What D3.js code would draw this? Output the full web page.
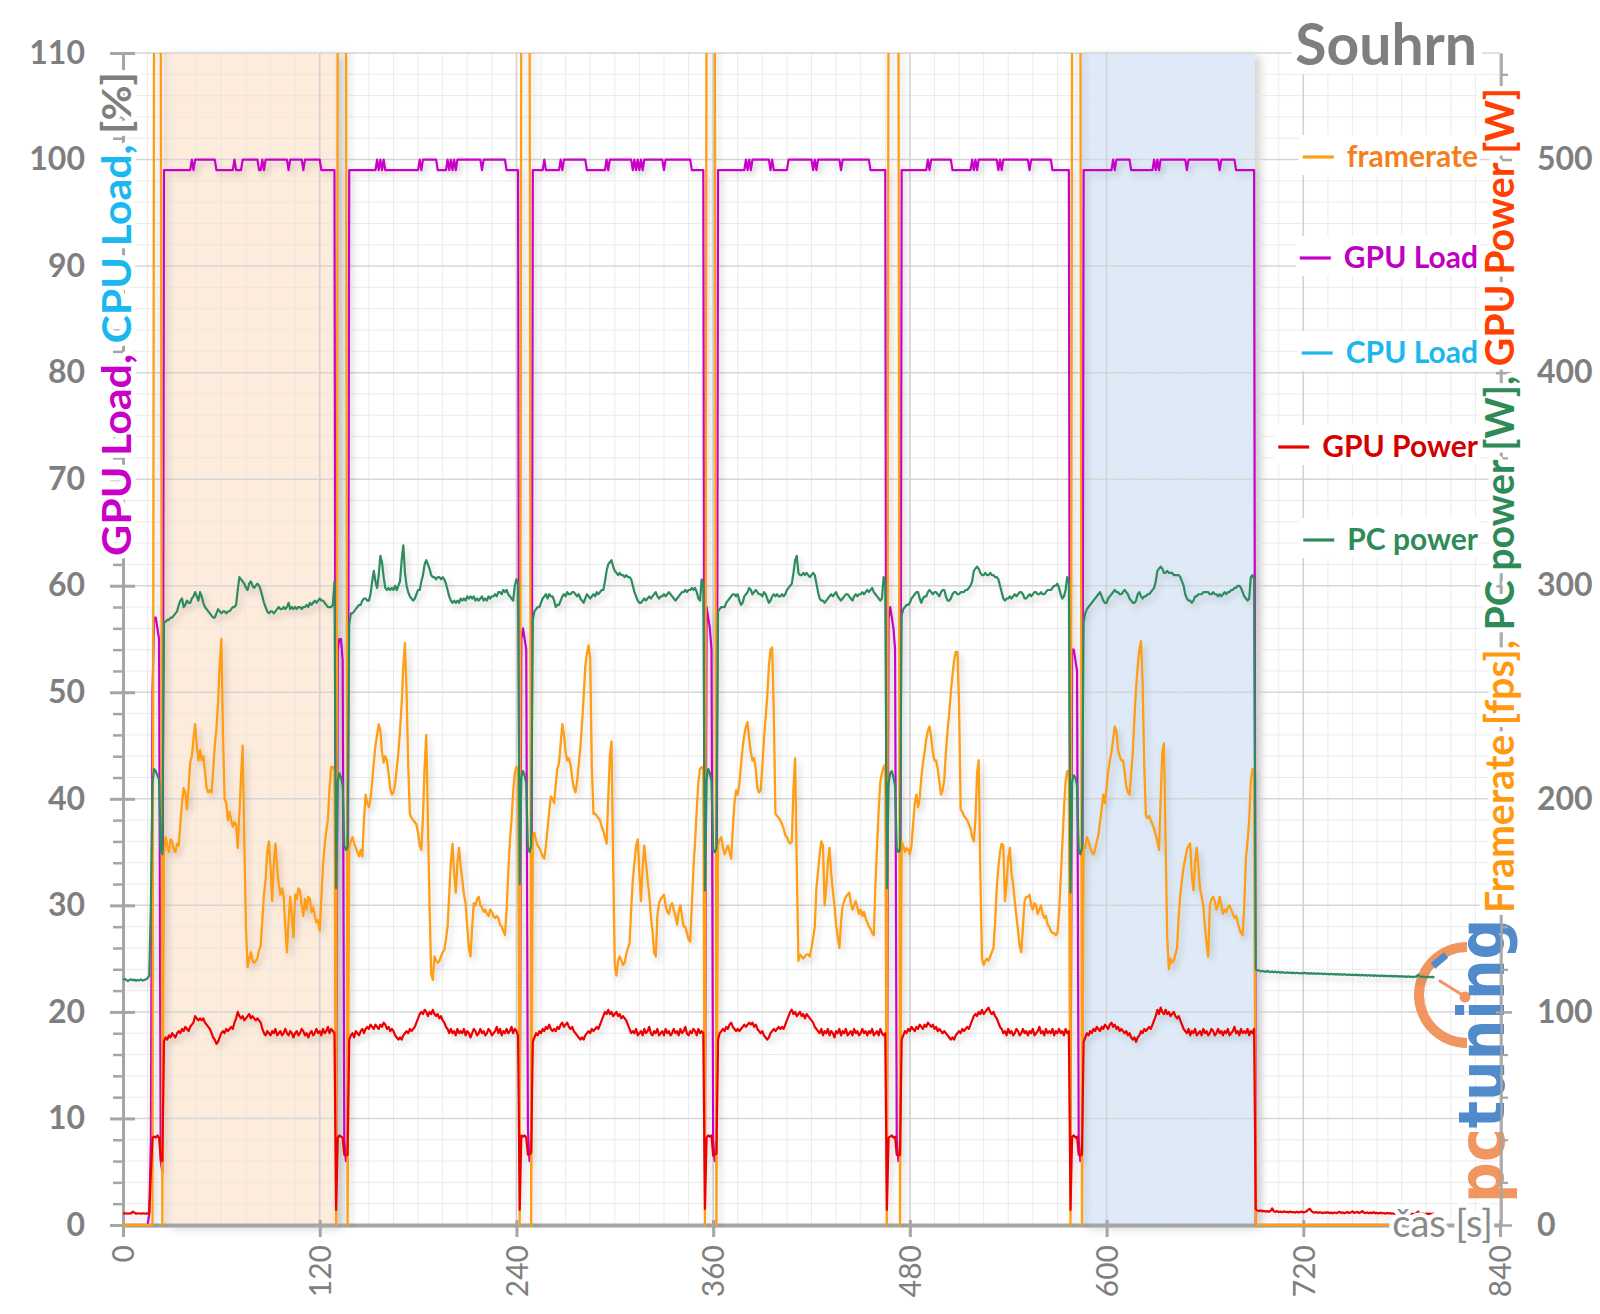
<!DOCTYPE html>
<html><head><meta charset="utf-8">
<script src="https://cdn.jsdelivr.net/npm/d3@7"></script>
<style>
html,body{margin:0;padding:0;background:#fff;}
svg{display:block;font-family:Lato,"Open Sans",sans-serif;}
</style></head><body>
<svg id="chart" width="1600" height="1314"></svg>
<script>
// ---------------- DATA ----------------
// time (s) at which each data segment starts; samples are 1 s apart
const segmentStart = [0, 25, 130, 138, 242, 250, 355, 363, 466, 475, 578, 586, 691];
const timeTicks = [0, 120, 240, 360, 480, 600, 720, 840];
const leftTicks = [0, 10, 20, 30, 40, 50, 60, 70, 80, 90, 100, 110];
const rightTicks = [0, 100, 200, 300, 400, 500];
const seriesNames = ["framerate", "GPU Load", "CPU Load", "GPU Power", "PC power"];
const bandStart = [25, 585];
const bandEnd = [130.5, 690];
const titleText = "Souhrn";
const xTitle = "čas [s]";
const leftTitleParts = ["GPU Load, ", "CPU Load, ", "[%]"];
const rightTitleParts = ["Framerate [fps], ", "PC power [W], ", "GPU Power [W]"];

// framerate [fps] (right axis); 600 = off the top of the chart (loading screens)
const framerate = [
 [0,0,0,0,0,0,0,0,0,0, 0,0,0,0,0,0,0,0,0,600, 600,600,600,600,0],
 [174,182,178,175,181,180,176,175,179,178, 188,198,205,203,195,205,217,220,228,235,
  225,218,223,218,220,213,205,203,204,203, 213,225,233,245,263,275,230,200,198,190,
  194,190,187,189,188,177,193,210,225,180, 140,121,125,128,124,123,124,125,129,131,
  143,155,162,175,180,168,152,170,179,168, 160,155,158,154,140,128,143,154,145,135,
  155,153,158,157,150,145,153,148,154,153, 147,149,145,142,143,138,153,169,178,185,
  190,205,215,215,213],
 [0,600,600,600,600,600,600,0],
 [177,180,182,179,177,175,173,176,173,190, 202,198,196,200,208,217,225,230,235,232,
  222,217,220,218,212,205,202,203,207,214, 222,232,245,262,273,250,215,193,191,190,
  189,188,184,178,176,192,215,230,190,150, 118,115,126,124,123,124,126,128,129,134,
  140,155,170,179,165,156,170,177,168,162, 155,151,140,130,126,140,151,150,153,154,
  150,149,147,148,146,145,148,147,145,144, 145,144,141,140,138,136,148,165,180,190,
  203,212,215,214],
 [0,600,600,600,600,600,600,0],
 [183,184,180,178,177,175,173,172,178,186, 194,201,200,198,207,214,217,226,235,230,
  222,218,219,216,210,205,203,208,216,224, 235,248,262,268,272,266,215,193,193,192,
  191,190,187,185,182,179,200,220,227,170, 122,117,124,126,124,122,123,127,130,132,
  148,162,170,178,181,165,152,168,178,170, 162,155,145,138,128,126,145,151,153,154,
  155,150,147,146,150,151,148,145,141,147, 150,145,140,140,137,134,133,150,168,180,
  195,208,214,215,214],
 [0,600,600,600,600,600,600,0],
 [178,181,182,177,174,176,178,175,172,186, 198,204,202,207,216,224,230,234,236,228,
  222,218,219,214,205,203,204,215,228,238, 248,262,270,271,240,193,192,191,190,188,
  186,183,182,180,179,180,205,219,170,124, 127,126,125,126,127,127,126,130,135,140,
  158,166,174,180,178,150,158,170,177,165, 157,150,141,135,130,142,150,152,154,155,
  156,151,148,150,152,149,146,148,145,147, 144,142,140,139,137,136,160,178,195,208,
  212,215,216],
 [0,600,600,600,600,600,600,600,0],
 [180,178,175,177,176,174,178,188,198,202, 196,200,210,217,222,228,232,234,229,222,
  218,218,214,208,202,204,209,222,232,240, 250,258,265,269,269,245,195,194,192,191,
  190,188,186,182,180,190,212,218,165,125, 122,124,125,124,126,128,130,142,158,168,
  175,179,178,152,160,172,177,165,160,152, 145,138,131,128,140,152,154,154,155,150,
  148,151,150,146,148,150,146,144,145,141, 140,138,137,137,136,137,146,162,178,195,
  208,213,213],
 [0,600,600,600,600,600,600,0],
 [178,177,182,180,177,175,174,176,180,183, 189,195,202,198,205,213,218,222,228,234,
  232,223,220,218,218,213,206,203,202,212, 222,238,252,262,270,274,255,215,192,191,
  192,190,188,186,183,180,176,200,222,226, 180,135,120,125,123,124,127,130,145,155,
  162,168,172,176,178,179,164,157,170,177, 168,158,154,150,140,132,126,150,153,154,
  152,148,150,154,150,146,148,147,149,150, 148,146,144,145,142,139,137,136,150,172,
  180,190,208,214,213],
 [0,0,0,0,0,0,0,0,0,0, 0,0,0,0,0,0,0,0,0,0, 0,0,0,0,0,0,0,0,0,0, 0,0,0,0,0,0,0,0,0,0,
  0,0,0,0,0,0,0,0,0,0, 0,0,0,0,0,0,0,0,0,0, 0,0,0,0,0,0,0,0,0,0, 0,0,0,0,0,0,0,0,0,0, 0,0,0]
];

// GPU load [%] (left axis)
const gpuLoad = [
 [0,0,0,0,0,0,0,0,0,0, 0,0,0,0,0,0,1,8,50,57, 57,56,55,6,5],
 [99,99,99,99,99,99,99,99,99,99, 99,99,99,99,99,99,99,100,99,100,
  100,100,100,100,100,100,100,100,100,100, 100,100,99,99,99,99,99,99,99,99,
  99,99,99,100,99,99,99,99,100,100, 100,100,100,100,100,100,100,100,99,99,
  100,99,100,100,100,100,100,100,100,100, 100,100,100,100,100,100,99,100,100,100,
  100,100,100,100,100,99,100,100,100,100, 100,100,100,100,100,100,99,99,99,99,
  99,99,99,99,99],
 [4,54,55,55,53,8,6,7],
 [99,99,99,99,99,99,99,99,99,99, 99,99,99,99,99,99,99,100,99,100,
  99,100,99,99,99,99,99,99,99,99, 99,99,99,99,99,99,99,99,99,99,
  99,99,99,100,99,100,100,100,100,100, 100,100,100,100,99,99,99,99,99,99,
  100,99,100,99,100,99,100,100,100,100, 100,100,100,100,100,100,100,100,100,100,
  100,99,100,100,100,100,100,100,100,100, 100,100,100,100,100,100,99,99,99,99,
  99,99,99,99],
 [5,55,56,55,54,9,6,7],
 [99,99,99,99,99,99,99,100,99,99, 99,99,99,99,99,99,99,100,99,100,
  100,100,100,100,100,100,100,100,100,100, 100,100,100,99,99,99,99,99,99,99,
  99,99,99,99,99,100,99,100,100,100, 100,100,100,100,100,100,100,100,100,100,
  100,99,100,99,100,99,100,99,100,100, 100,100,100,100,100,100,100,100,100,100,
  99,100,100,100,100,100,100,100,100,100, 100,100,100,100,100,100,100,99,99,99,
  99,99,99,99,99],
 [5,58,57,56,54,8,6,7],
 [99,99,99,99,99,99,99,99,99,99, 99,99,99,99,99,99,99,100,99,100,
  99,100,100,100,100,100,100,100,100,100, 100,100,99,100,99,99,99,99,99,99,
  99,99,99,100,100,100,100,100,100,100, 100,100,100,100,100,100,100,100,99,100,
  99,100,100,100,100,100,100,100,100,100, 100,100,100,100,100,99,100,100,100,100,
  100,100,100,100,100,100,100,100,100,100, 100,100,100,99,99,99,99,99,99,99,
  99,99,99],
 [4,57,58,57,56,54,8,6,7],
 [99,99,99,99,99,99,99,99,99,99, 99,99,99,99,99,99,100,99,100,100,
  100,100,100,100,100,100,100,100,100,100, 100,99,99,99,99,99,99,99,99,99,
  99,99,99,100,99,100,99,100,100,100, 100,100,100,100,100,100,100,100,100,99,
  100,99,100,100,100,100,100,100,100,100, 100,100,100,100,100,100,100,100,99,100,
  100,100,100,100,100,100,100,100,100,100, 100,100,99,99,99,99,99,99,99,99,
  99,99,99],
 [5,54,54,53,52,8,6,7],
 [99,99,99,99,99,99,99,99,99,99, 99,99,99,99,99,99,99,99,100,99,
  100,100,100,100,100,100,100,100,100,99, 99,99,99,99,99,99,99,99,99,99,
  99,99,99,100,99,100,99,100,100,100, 100,100,100,100,100,100,100,100,100,100,
  100,100,100,99,100,100,100,100,100,100, 100,100,100,100,100,100,100,100,100,100,
  100,100,100,99,100,100,100,100,100,100, 100,100,100,99,99,99,99,99,99,99,
  99,99,99,99,99],
 [0,0,0,0,0,0,0,0,0,0, 0,0,0,0,0,0,0,0,0,0, 0,0,0,0,0,0,0,0,0,0, 0,0,0,0,0,0,0,0,0,0,
  0,0,0,0,0,0,0,0,0,0, 0,0,0,0,0,0,0,0,0,0, 0,0,0,0,0,0,0,0,0,0, 0,0,0,0,0,0,0,0,0,0, 0,0,0]
];

// CPU load [%] – no visible trace in the chart (legend entry only)
const cpuLoad = [];

// GPU power [W] (right axis)
const gpuPower = [
 [5.6,5.4,5.5,5.3,5.5,5.4,6.3,5.8,5.3,5.5, 5.4,5.3,5.5,5.4,5.3,5.5,5.4,24,41,41.5, 41,42,41,31,30],
 [86,88,87,89,88,90,89,88,90,91, 90,92,91,93,92,91,93,94,95,98,
  97,96,97,96,97,95,94,93,92,90, 88,87,85,86,88,90,91,90,92,91,
  92,93,92,95,97,100,98,97,98,96, 97,98,99,97,98,97,96,97,96,95,
  92,90,89,91,90,89,91,90,92,89, 90,91,89,90,92,90,89,91,90,88,
  90,91,89,90,92,91,89,90,88,90, 91,89,90,92,90,91,89,92,90,91,
  93,90,92,91,90],
 [7,41,42,41.5,41,33,32.5,33],
 [87,89,90,88,91,90,89,91,92,90, 92,93,92,94,93,92,94,93,92,94,
  93,95,94,92,93,91,92,91,89,88, 87,88,87,89,90,91,90,92,91,92,
  93,95,97,99,100,99,101,100,98,100, 99,101,99,98,99,97,98,96,95,93,
  92,90,92,90,91,89,92,90,91,90, 92,89,91,90,88,90,92,91,89,90,
  92,90,91,89,90,92,91,89,90,91, 93,90,92,89,91,90,92,90,91,93,
  90,92,91,89],
 [7,42,41.5,42,41,33,33,34],
 [86,88,90,89,91,90,92,91,93,92, 94,92,91,92,91,93,92,94,95,93,
  94,95,93,92,93,91,90,89,88,87, 88,87,89,90,91,90,92,91,92,93,
  92,94,96,98,100,99,101,99,100,98, 99,100,98,99,97,98,97,96,94,92,
  90,91,90,92,89,90,91,89,92,90, 91,93,90,89,91,90,92,89,90,91,
  89,92,90,91,89,90,92,90,91,89, 92,90,91,93,90,89,91,90,92,91,
  89,92,90,91,90],
 [7.5,41,42,41.5,42,32.5,33,33.5],
 [87,90,91,92,91,93,92,94,95,93, 92,91,92,91,92,93,94,93,94,95,
  94,95,93,94,92,91,90,91,89,88, 87,88,90,91,92,91,92,93,92,93,
  92,94,96,98,100,101,99,100,98,99, 100,98,99,97,99,98,97,96,95,93,
  92,91,90,92,89,91,90,92,89,91, 90,88,91,90,92,89,91,90,92,89,
  90,91,89,92,90,91,89,90,92,90, 91,89,91,90,92,89,90,91,89,92,
  90,89,90],
 [7,41,41.5,42,41,41.5,33,32.5,33],
 [87,89,91,90,92,91,93,92,91,93, 92,94,93,92,94,93,95,94,93,94,
  92,93,91,92,91,90,91,90,89,88, 87,88,87,89,90,91,90,92,91,92,
  93,92,94,96,98,99,98,100,99,101, 99,100,101,102,100,99,100,98,97,95,
  93,92,90,91,89,92,90,91,89,90, 92,91,89,90,92,90,91,89,91,90,
  92,89,90,91,93,90,91,89,92,90, 91,90,92,89,91,90,92,90,91,89,
  92,90,91],
 [7,41.5,42,41,41.5,33,32.5,33],
 [86,88,90,89,91,90,92,91,93,92, 91,93,92,94,93,92,94,95,93,94,
  92,93,91,92,91,90,91,89,90,88, 87,88,86,88,89,91,90,92,91,92,
  93,92,94,96,98,101,99,102,100,99, 101,99,100,98,99,100,98,97,98,96,
  94,92,91,90,92,89,91,90,92,89, 90,91,89,92,90,91,89,90,92,91,
  89,90,92,90,91,89,91,90,92,89, 90,91,93,90,91,89,92,90,91,90,
  92,89,91,90,92],
 [7.5,6.8,6.5,6.9,6.4,6.6,6.3,6.5,6.2,6.6, 7.8,6.4,6.2,6.5,6.1,6.3,6.0,6.4,6.1,6.2,
  5.9,6.3,6.0,6.1,5.8,6.2,5.9,6.0,6.3,5.9, 6.1,6.4,7.2,7.6,6.5,6.0,5.8,6.1,5.7,6.0,
  5.8,5.6,5.9,5.7,6.0,5.6,5.8,5.5,5.9,5.6, 5.8,6.2,5.7,5.9,5.5,5.8,6.1,5.6,5.9,6.4,
  5.7,5.9,6.2,5.6,6.0,6.5,5.8,5.6,5.9,5.5, 5.8,5.6,6.0,5.5,5.7,5.4,5.8,5.5,5.6,5.3,
  5.7,5.4,5.6,5.3,5.5,5.2,5.6,5.3,5.5,5.2, 5.4,5.6,5.3,5.5,5.2,5.4,5.1,5.3,5.5,6.3,
  5.4,5.2,5.4,5.1,5.3,5.2,5.4,5.1,5.3,5.2]
];

// PC power [W] (right axis)
const pcPower = [
 [115,115.5,115,114.5,115,115.3,114.8,115.2,114.6,115, 114.8,115.2,114.7,115,115.3,115.8,117,150,208,214, 213,211,209,176,174],
 [283,283,284,284,285,285,286,287,288,291, 293,294,290,291,293,292,292,294,295,297,
  295,293,297,295,292,290,289,288,287,286, 285,285,287,289,288,287,288,288,287,288,
  288,289,290,290,291,298,304,303,302,301, 299,298,301,302,300,299,300,301,300,298,
  295,292,290,288,287,288,288,287,288,289, 290,289,289,290,289,290,292,289,290,289,
  290,289,290,290,289,290,290,291,290,292, 291,292,293,292,293,294,293,293,292,291,
  290,290,290,291,302],
 [158,208,212,210,206,178,176,177],
 [282,287,287,288,289,290,291,291,293,294, 294,293,293,296,302,307,302,299,305,314,
  311,304,299,298,299,298,299,298,300,298, 300,302,312,319,306,300,297,295,294,293,
  294,296,298,298,302,305,310,312,310,308, 305,304,304,303,304,304,303,304,303,301,
  298,295,293,292,293,292,293,292,294,293, 294,293,295,294,295,294,295,293,294,293,
  294,295,293,294,293,295,294,295,295,296, 295,297,297,296,298,297,298,296,295,294,
  293,300,303,301],
 [160,210,213,211,207,177,175,178],
 [284,288,289,290,290,292,294,295,296,294, 296,295,295,293,290,291,291,293,295,296,
  295,297,296,296,297,297,296,295,296,294, 293,292,294,296,295,294,295,296,295,297,
  296,297,298,298,302,307,310,311,312,309, 307,306,305,306,305,305,304,305,304,304,
  303,300,297,295,293,292,292,293,294,293, 294,295,294,295,296,297,295,294,295,295,
  296,295,296,297,296,295,294,293,294,295, 296,297,297,298,297,298,298,299,298,299,
  297,294,293,303,301],
 [157,209,214,212,208,176,175,177],
 [288,289,290,290,290,292,293,294,295,296, 296,295,296,293,291,292,295,296,297,299,
  298,296,297,298,297,296,296,295,297,296, 294,292,293,295,296,295,296,295,295,296,
  295,296,298,299,300,301,306,312,314,306, 305,305,306,305,306,305,304,305,306,305,
  301,297,294,293,293,292,293,294,295,296, 295,296,297,295,294,293,294,295,296,296,
  295,294,293,295,296,295,296,296,297,296, 297,298,297,298,299,297,296,295,294,293,
  294,304,302],
 [158,207,212,213,210,206,177,175,176],
 [286,289,290,291,291,292,294,295,296,297, 297,294,292,294,295,295,297,298,297,296,
  297,297,296,295,297,298,298,295,293,293, 294,296,297,297,296,296,297,297,297,298,
  298,299,300,302,307,308,309,308,306,305, 305,306,305,305,306,305,305,304,304,303,
  300,297,294,293,294,294,295,294,295,296, 295,296,297,297,296,294,294,295,296,295,
  296,297,297,296,296,297,296,296,297,298, 298,298,299,300,300,301,299,296,294,295,
  298,304,302],
 [156,208,211,210,206,176,174,177],
 [283,287,289,290,291,292,293,294,295,296, 297,295,293,292,292,294,295,296,297,298,
  297,297,296,296,297,298,297,296,294,293, 292,292,293,296,297,295,294,295,295,296,
  296,297,298,299,302,307,308,309,308,306, 306,307,306,306,306,305,305,305,305,304,
  302,300,296,294,293,293,292,293,295,295, 296,296,296,297,297,297,297,296,296,297,
  296,296,295,296,295,296,297,296,297,297, 298,298,299,299,300,300,299,297,295,294,
  293,294,304,305,303],
 [120,119.5,119.5,119,119.3,119,118.8,119.2,118.9,118.7, 119,118.6,118.9,118.5,118.8,118.4,118.7,118.5,118.3,118.6,
  118.3,118.5,118.2,118.5,118.1,118.4,118.2,118,118.3,118.1, 118.4,118,118.2,117.9,118.2,117.9,118.1,117.8,118.1,117.8,
  118,117.7,118,117.7,117.9,117.6,117.9,117.6,117.8,117.5, 117.8,117.5,117.7,117.4,117.7,117.5,117.3,117.6,117.3,117.5,
  117.2,117.5,117.2,117.4,117.1,117.4,117.1,117.3,117,117.3, 117,117.2,116.9,117.2,116.9,117.1,116.8,117.1,116.8,117,
  116.7,117,116.7,116.9,116.6,116.9,116.6,116.8,116.5,116.8, 116.5,116.7,116.4,116.7,116.4,116.6,116.3,116.6,116.5,117.5,
  116.8,116.4,116.6,116.3,116.5,116.2,116.5,116.3,116.4,116.2]
];

// ---------------- CHART ----------------
const P = {left: 123, right: 1500, top: 53, bottom: 1225};
const x = d3.scaleLinear().domain([0, 840]).range([P.left, P.right]);
const yL = d3.scaleLinear().domain([0, 110]).range([P.bottom, P.top]);
const yR = d3.scaleLinear().domain([0, 550]).range([P.bottom, P.top]);

const C = {fps: "#ff9d14", gpuLoad: "#c800c8", cpuLoad: "#1ab8ee", gpuPow: "#ec0000", pc: "#2e8b60", gray: "#7f7f7f", axis: "#a6a6a6"};

const svg = d3.select("#chart");
svg.append("rect").attr("width", 1600).attr("height", 1314).attr("fill", "#fff");
const defs = svg.append("defs");
defs.append("clipPath").attr("id", "plotClip").append("rect")
  .attr("x", P.left).attr("y", P.top).attr("width", P.right - P.left).attr("height", P.bottom - P.top + 3);
const fl = defs.append("filter").attr("id", "lineShadow").attr("filterUnits", "userSpaceOnUse")
  .attr("x", 0).attr("y", 0).attr("width", 1600).attr("height", 1314);
fl.append("feDropShadow").attr("dx", 3).attr("dy", 4).attr("stdDeviation", 3)
  .attr("flood-color", "#000").attr("flood-opacity", 0.16);
const fb = defs.append("filter").attr("id", "bandShadow").attr("filterUnits", "userSpaceOnUse")
  .attr("x", 0).attr("y", 0).attr("width", 1600).attr("height", 1314);
fb.append("feDropShadow").attr("dx", 6).attr("dy", 3).attr("stdDeviation", 5)
  .attr("flood-color", "#000").attr("flood-opacity", 0.18);

// highlighted bands (below the grid so gridlines show through)
const bandColors = ["#fdebdc", "#deeaf8"];
svg.append("g").attr("filter", "url(#bandShadow)").selectAll("rect").data(bandStart).join("rect")
  .attr("x", d => x(d)).attr("y", P.top)
  .attr("width", (d, i) => x(bandEnd[i]) - x(d)).attr("height", P.bottom - P.top)
  .attr("fill", (d, i) => bandColors[i]);

// grid
const grid = svg.append("g");
const minorH = d3.range(0, 110.01, 2).filter(v => v % 10 !== 0);
const minorV = d3.range(0, 840.01, 15).filter(v => v % 120 !== 0);
grid.selectAll(".mh").data(minorH).join("line")
  .attr("x1", P.left).attr("x2", P.right).attr("y1", d => yL(d)).attr("y2", d => yL(d))
  .attr("stroke", "#e6e6e6").attr("stroke-opacity", 0.8).attr("stroke-width", 1);
grid.selectAll(".mv").data(minorV).join("line")
  .attr("y1", P.top).attr("y2", P.bottom).attr("x1", d => x(d)).attr("x2", d => x(d))
  .attr("stroke", "#e6e6e6").attr("stroke-opacity", 0.8).attr("stroke-width", 1);
grid.selectAll(".Mh").data(leftTicks).join("line")
  .attr("x1", P.left).attr("x2", P.right).attr("y1", d => yL(d)).attr("y2", d => yL(d))
  .attr("stroke", "#d6d6d6").attr("stroke-width", 1.5);
grid.selectAll(".Mv").data(timeTicks).join("line")
  .attr("y1", P.top).attr("y2", P.bottom).attr("x1", d => x(d)).attr("x2", d => x(d))
  .attr("stroke", "#d3d3d3").attr("stroke-width", 1.6);

// logo (watermark)
const logo = svg.append("g").attr("opacity", 0.9);
logo.append("path").attr("transform", "translate(1467,995)")
  .attr("d", d3.arc()({innerRadius: 43, outerRadius: 53, startAngle: Math.PI, endAngle: 2 * Math.PI}))
  .attr("fill", "#f08a50");
logo.append("line").attr("x1", 1433).attr("y1", 966).attr("x2", 1446).attr("y2", 955)
  .attr("stroke", "#3f7fc6").attr("stroke-width", 7);
logo.append("line").attr("x1", 1440).attr("y1", 981).attr("x2", 1464).attr("y2", 996)
  .attr("stroke", "#f08a50").attr("stroke-width", 3).attr("stroke-linecap", "round");
logo.append("circle").attr("cx", 1465).attr("cy", 997).attr("r", 5.5).attr("fill", "#f08a50");
const lt = logo.append("text").attr("transform", "translate(1504,1203) rotate(-90) scale(1.02,1.14)")
  .attr("font-family", "DejaVu Sans").attr("font-weight", 700).attr("font-size", 56);
lt.append("tspan").attr("fill", "#f08a50").text("pc");
lt.append("tspan").attr("fill", "#3f7fc6").text("tuning");

// axes
const gL = svg.append("g").attr("transform", `translate(${P.left},0)`);
gL.call(d3.axisLeft(yL).tickValues(leftTicks).tickSize(13).tickSizeOuter(0).tickPadding(25).tickFormat(d3.format("d")));
gL.select(".domain").attr("stroke", C.axis).attr("stroke-width", 3);
gL.selectAll(".tick line").attr("stroke", C.axis).attr("stroke-width", 3).attr("x1", 12);
gL.selectAll(".tick text").attr("font-size", 32).attr("font-weight", 700).attr("fill", C.gray).attr("font-family", "Lato");
const gLm = svg.append("g").attr("transform", `translate(${P.left},0)`);
gLm.call(d3.axisLeft(yL).tickValues(minorH).tickSize(10).tickSizeOuter(0).tickFormat(""));
gLm.select(".domain").remove();
gLm.selectAll(".tick line").attr("stroke", C.axis).attr("stroke-width", 2.5);

const gR = svg.append("g").attr("transform", `translate(${P.right + 1},0)`);
gR.call(d3.axisRight(yR).tickValues(rightTicks).tickSize(11).tickSizeOuter(0).tickPadding(25).tickFormat(d3.format("d")));
gR.select(".domain").attr("stroke", C.axis).attr("stroke-width", 2.5);
gR.selectAll(".tick line").attr("stroke", C.axis).attr("stroke-width", 2.5).attr("x1", -5);
gR.selectAll(".tick text").attr("font-size", 32).attr("font-weight", 700).attr("fill", C.gray).attr("font-family", "Lato");
const minorR = d3.range(0, 540.01, 20).filter(v => v % 100 !== 0);
const gRm = svg.append("g").attr("transform", `translate(${P.right + 1},0)`);
gRm.call(d3.axisRight(yR).tickValues(minorR).tickSize(7).tickSizeOuter(0).tickFormat(""));
gRm.select(".domain").remove();
gRm.selectAll(".tick line").attr("stroke", C.axis).attr("stroke-width", 2.2);

const gB = svg.append("g").attr("transform", `translate(0,${P.bottom})`);
gB.call(d3.axisBottom(x).tickValues(timeTicks).tickSize(12).tickSizeOuter(0).tickFormat(d3.format("d")));
gB.select(".domain").attr("stroke", C.axis).attr("stroke-width", 4);
gB.selectAll(".tick line").attr("stroke", C.axis).attr("stroke-width", 3).attr("y1", -5);
gB.selectAll(".tick text").attr("font-size", 30).attr("font-weight", 400).attr("fill", C.gray).attr("font-family", "Lato")
  .attr("transform", "rotate(-90)").attr("x", -20).attr("y", 0).attr("dy", "0.36em").attr("text-anchor", "end");

// series
function points(segs) {
  const pts = [];
  segs.forEach((seg, i) => seg.forEach((v, j) => pts.push({t: segmentStart[i] + j, v: v})));
  return pts;
}
const series = svg.append("g").attr("clip-path", "url(#plotClip)").append("g").attr("filter", "url(#lineShadow)");
function drawLine(segs, yScale, color, w) {
  const line = d3.line().x(d => x(d.t)).y(d => yScale(d.v));
  series.append("path").datum(points(segs)).attr("d", line)
    .attr("fill", "none").attr("stroke", color).attr("stroke-width", w)
    .attr("stroke-linejoin", "round");
}
drawLine(gpuLoad, yL, C.gpuLoad, 2.2);
if (cpuLoad.length) drawLine(cpuLoad, yL, C.cpuLoad, 2.2);
drawLine(framerate, yR, C.fps, 2.3);
drawLine(gpuPower, yR, C.gpuPow, 2.2);
drawLine(pcPower, yR, C.pc, 2.2);

// x-axis title with white halo
svg.append("text").attr("x", 1493).attr("y", 1237).attr("text-anchor", "end")
  .attr("font-size", 38).attr("fill", "#8a8a8a")
  .attr("stroke", "#fff").attr("stroke-width", 9).attr("stroke-linejoin", "round").style("paint-order", "stroke")
  .text(xTitle);

// axis titles (halo hides the axis line under the glyphs)
const lTitle = svg.append("text").attr("transform", "translate(131,314) rotate(-90)")
  .attr("text-anchor", "middle").attr("font-size", 41).attr("font-weight", 700)
  .attr("textLength", 484).attr("lengthAdjust", "spacingAndGlyphs")
  .attr("stroke", "#fff").attr("stroke-width", 10).attr("stroke-linejoin", "round").style("paint-order", "stroke");
lTitle.append("tspan").attr("fill", C.gpuLoad).text(leftTitleParts[0]);
lTitle.append("tspan").attr("fill", C.cpuLoad).text(leftTitleParts[1]);
lTitle.append("tspan").attr("fill", C.gray).text(leftTitleParts[2]);

const rTitle = svg.append("text").attr("transform", "translate(1514,500.5) rotate(-90)")
  .attr("text-anchor", "middle").attr("font-size", 40).attr("font-weight", 700)
  .attr("textLength", 825).attr("lengthAdjust", "spacingAndGlyphs")
  .attr("stroke", "#fff").attr("stroke-width", 10).attr("stroke-linejoin", "round").style("paint-order", "stroke");
rTitle.append("tspan").attr("fill", "#ff9a10").text(rightTitleParts[0]);
rTitle.append("tspan").attr("fill", "#2e8b57").text(rightTitleParts[1]);
rTitle.append("tspan").attr("fill", "#ff4000").text(rightTitleParts[2]);

// chart title
svg.append("rect").attr("x", 1292).attr("y", 16).attr("width", 190).attr("height", 58).attr("fill", "#fff");
svg.append("text").attr("x", 1477).attr("y", 65).attr("text-anchor", "end")
  .attr("font-size", 57).attr("font-weight", 700).attr("fill", C.gray).text(titleText);

// legend
const legendColors = [C.fps, C.gpuLoad, C.cpuLoad, C.gpuPow, C.pc];
const legendText = ["#f28020", "#c000c0", "#1ab8ee", "#d20000", "#2e8b57"];
const legendY = [167, 268, 363, 457, 550];
const lg = svg.append("g");
seriesNames.forEach((name, i) => {
  const g = lg.append("g");
  const bg = g.append("rect").attr("fill", "#fff");
  const t = g.append("text").attr("x", 1478).attr("y", legendY[i]).attr("text-anchor", "end")
    .attr("font-size", 30).attr("font-weight", 700).attr("fill", legendText[i]).text(name);
  const bb = t.node().getBBox();
  const x2 = bb.x - 13, x1 = x2 - 31, ly = legendY[i] - 10;
  bg.attr("x", x1 - 4).attr("y", bb.y - 2).attr("width", 1478 - x1 + 6).attr("height", bb.height + 4);
  g.append("line").attr("x1", x1).attr("x2", x2).attr("y1", ly).attr("y2", ly)
    .attr("stroke", legendColors[i]).attr("stroke-width", 3.2);
});
</script></body></html>
